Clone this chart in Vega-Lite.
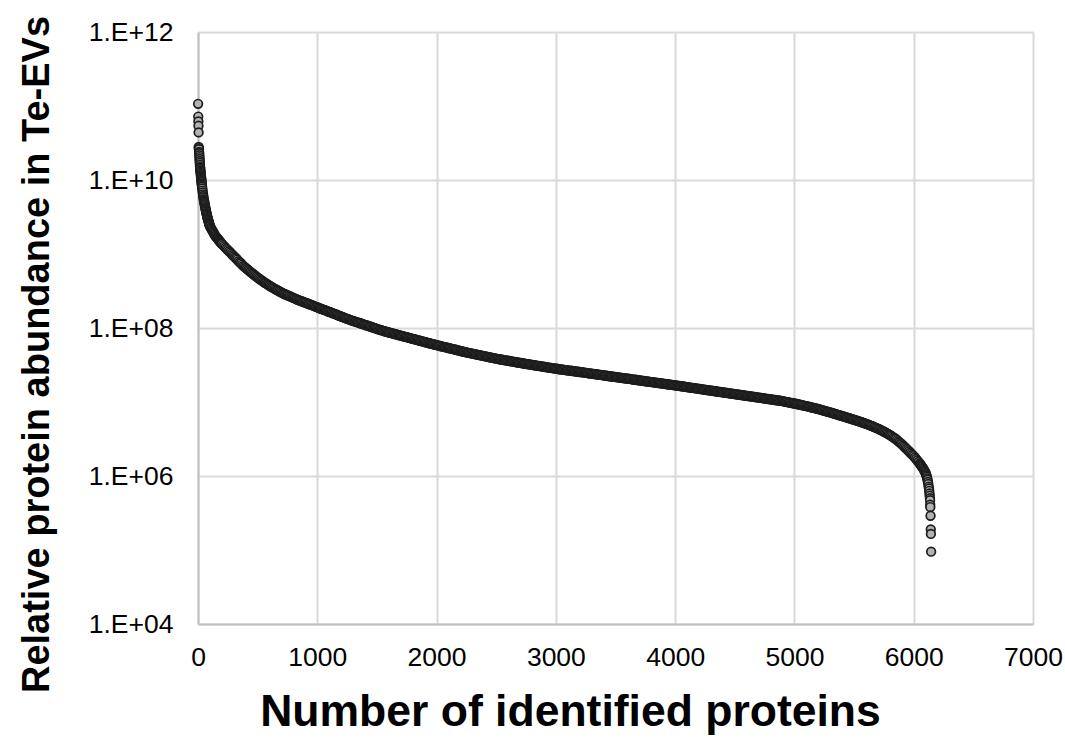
{
  "$schema": "https://vega.github.io/schema/vega-lite/v6.json",
  "width": 835,
  "height": 592,
  "autosize": {"type": "none"},
  "padding": {"left": 198, "top": 32, "right": 32, "bottom": 129},
  "background": "white",
  "config": {
    "view": {"stroke": null},
    "font": "Liberation Sans",
    "axis": {"labelFont": "Liberation Sans", "titleFont": "Liberation Sans", "labelColor": "#000000", "titleColor": "#000000"}
  },
  "data": {"values": [
{"x":1,"y":1.07e11},{"x":2,"y":7.2e10},{"x":3,"y":6.2e10},{"x":4,"y":5.4e10},{"x":5,"y":4.4e10},{"x":6,"y":2.8e10},{"x":7,"y":2.7e10},{"x":8,"y":2.6e10},{"x":9,"y":2.4e10},{"x":10,"y":2.3e10},
{"x":11,"y":2.16e10},{"x":12,"y":2.04e10},{"x":13,"y":1.92e10},{"x":14,"y":1.81e10},{"x":15,"y":1.71e10},{"x":16,"y":1.61e10},{"x":17,"y":1.51e10},{"x":18,"y":1.46e10},{"x":19,"y":1.41e10},{"x":20,"y":1.35e10},
{"x":21,"y":1.30e10},{"x":22,"y":1.26e10},{"x":23,"y":1.21e10},{"x":24,"y":1.16e10},{"x":25,"y":1.12e10},{"x":26,"y":1.08e10},{"x":27,"y":1.045e10},{"x":28,"y":1.01e10},{"x":29,"y":9.7e9},{"x":30,"y":9.4e9},
{"x":31,"y":9.0e9},{"x":32,"y":8.7e9},{"x":33,"y":8.4e9},{"x":34,"y":8.1e9},{"x":36,"y":7.7e9},{"x":38,"y":7.2e9},{"x":40,"y":6.8e9},{"x":42,"y":6.4e9},{"x":44,"y":6.1e9},{"x":46,"y":5.8e9},
{"x":48,"y":5.5e9},{"x":50,"y":5.3e9},{"x":52,"y":5.1e9},{"x":54,"y":4.9e9},{"x":56,"y":4.7e9},{"x":58,"y":4.5e9},{"x":60,"y":4.3e9},{"x":62,"y":4.15e9},{"x":64,"y":4.0e9},{"x":66,"y":3.9e9},
{"x":68,"y":3.75e9},{"x":70,"y":3.6e9},{"x":72,"y":3.5e9},{"x":74,"y":3.4e9},{"x":76,"y":3.3e9},{"x":78,"y":3.16e9},{"x":80,"y":3.08e9},{"x":82,"y":3.0e9},{"x":84,"y":2.92e9},{"x":86,"y":2.85e9},
{"x":88,"y":2.77e9},{"x":90,"y":2.7e9},{"x":92,"y":2.63e9},{"x":94,"y":2.57e9},{"x":96,"y":2.5e9},{"x":98,"y":2.44e9},{"x":100,"y":2.37e9},{"x":105,"y":2.29e9},{"x":110,"y":2.22e9},{"x":115,"y":2.15e9},
{"x":120,"y":2.07e9},{"x":125,"y":2.01e9},{"x":130,"y":1.95e9},{"x":135,"y":1.88e9},{"x":140,"y":1.82e9},{"x":145,"y":1.76e9},{"x":150,"y":1.72e9},{"x":155,"y":1.68e9},{"x":160,"y":1.64e9},{"x":165,"y":1.61e9},
{"x":170,"y":1.57e9},{"x":175,"y":1.53e9},{"x":180,"y":1.50e9},{"x":185,"y":1.47e9},{"x":190,"y":1.43e9},{"x":195,"y":1.40e9},{"x":200,"y":1.37e9},{"x":210,"y":1.32e9},{"x":220,"y":1.27e9},{"x":230,"y":1.22e9},
{"x":240,"y":1.17e9},{"x":250,"y":1.13e9},{"x":260,"y":1.09e9},{"x":270,"y":1.05e9},{"x":280,"y":1.01e9},{"x":290,"y":9.7e8},{"x":300,"y":9.35e8},{"x":310,"y":9.0e8},{"x":320,"y":8.7e8},{"x":330,"y":8.4e8},
{"x":340,"y":8.0e8},{"x":350,"y":7.7e8},{"x":360,"y":7.5e8},{"x":370,"y":7.2e8},{"x":380,"y":6.9e8},{"x":390,"y":6.7e8},{"x":400,"y":6.49e8},{"x":410,"y":6.28e8},{"x":420,"y":6.1e8},{"x":430,"y":5.9e8},
{"x":440,"y":5.71e8},{"x":450,"y":5.55e8},{"x":460,"y":5.4e8},{"x":470,"y":5.24e8},{"x":480,"y":5.08e8},{"x":490,"y":4.94e8},{"x":500,"y":4.8e8},{"x":510,"y":4.67e8},{"x":520,"y":4.55e8},{"x":530,"y":4.43e8},
{"x":540,"y":4.32e8},{"x":550,"y":4.2e8},{"x":560,"y":4.09e8},{"x":570,"y":4.0e8},{"x":580,"y":3.91e8},{"x":590,"y":3.81e8},{"x":600,"y":3.72e8},{"x":610,"y":3.64e8},{"x":620,"y":3.56e8},{"x":630,"y":3.48e8},
{"x":640,"y":3.41e8},{"x":650,"y":3.34e8},{"x":660,"y":3.27e8},{"x":670,"y":3.21e8},{"x":680,"y":3.14e8},{"x":690,"y":3.08e8},{"x":700,"y":3.02e8},{"x":710,"y":2.96e8},{"x":720,"y":2.90e8},{"x":730,"y":2.86e8},
{"x":740,"y":2.81e8},{"x":750,"y":2.77e8},{"x":760,"y":2.72e8},{"x":770,"y":2.68e8},{"x":780,"y":2.64e8},{"x":790,"y":2.59e8},{"x":800,"y":2.55e8},{"x":810,"y":2.51e8},{"x":820,"y":2.47e8},{"x":830,"y":2.43e8},
{"x":840,"y":2.39e8},{"x":850,"y":2.36e8},{"x":860,"y":2.33e8},{"x":870,"y":2.30e8},{"x":880,"y":2.26e8},{"x":890,"y":2.23e8},{"x":900,"y":2.20e8},{"x":910,"y":2.17e8},{"x":920,"y":2.14e8},{"x":930,"y":2.11e8},
{"x":940,"y":2.08e8},{"x":950,"y":2.05e8},{"x":960,"y":2.02e8},{"x":970,"y":1.99e8},{"x":980,"y":1.96e8},{"x":990,"y":1.93e8},{"x":1000,"y":1.91e8},{"x":1010,"y":1.88e8},{"x":1020,"y":1.85e8},{"x":1030,"y":1.82e8},
{"x":1040,"y":1.80e8},{"x":1050,"y":1.77e8},{"x":1060,"y":1.75e8},{"x":1070,"y":1.73e8},{"x":1080,"y":1.70e8},{"x":1090,"y":1.67e8},{"x":1100,"y":1.65e8},{"x":1110,"y":1.63e8},{"x":1120,"y":1.61e8},{"x":1130,"y":1.58e8},
{"x":1140,"y":1.56e8},{"x":1150,"y":1.54e8},{"x":1160,"y":1.52e8},{"x":1170,"y":1.50e8},{"x":1180,"y":1.47e8},{"x":1190,"y":1.45e8},{"x":1200,"y":1.43e8},{"x":1210,"y":1.41e8},{"x":1220,"y":1.39e8},{"x":1230,"y":1.37e8},
{"x":1240,"y":1.35e8},{"x":1250,"y":1.33e8},{"x":1260,"y":1.32e8},{"x":1270,"y":1.30e8},{"x":1280,"y":1.28e8},{"x":1290,"y":1.26e8},{"x":1300,"y":1.25e8},{"x":1310,"y":1.23e8},{"x":1320,"y":1.22e8},{"x":1330,"y":1.20e8},
{"x":1340,"y":1.19e8},{"x":1350,"y":1.17e8},{"x":1360,"y":1.16e8},{"x":1370,"y":1.15e8},{"x":1380,"y":1.13e8},{"x":1390,"y":1.12e8},{"x":1400,"y":1.10e8},{"x":1410,"y":1.09e8},{"x":1420,"y":1.08e8},{"x":1430,"y":1.06e8},
{"x":1440,"y":1.05e8},{"x":1450,"y":1.04e8},{"x":1460,"y":1.02e8},{"x":1470,"y":1.01e8},{"x":1480,"y":1.00e8},{"x":1490,"y":9.9e7},{"x":1500,"y":9.75e7},{"x":1510,"y":9.6e7},{"x":1520,"y":9.5e7},{"x":1530,"y":9.4e7},
{"x":1540,"y":9.3e7},{"x":1550,"y":9.2e7},{"x":1560,"y":9.06e7},{"x":1570,"y":8.97e7},{"x":1580,"y":8.89e7},{"x":1590,"y":8.8e7},{"x":1600,"y":8.7e7},{"x":1610,"y":8.63e7},{"x":1620,"y":8.54e7},{"x":1630,"y":8.46e7},
{"x":1640,"y":8.37e7},{"x":1650,"y":8.3e7},{"x":1660,"y":8.2e7},{"x":1670,"y":8.13e7},{"x":1680,"y":8.05e7},{"x":1690,"y":7.96e7},{"x":1700,"y":7.89e7},{"x":1710,"y":7.81e7},{"x":1720,"y":7.74e7},{"x":1730,"y":7.66e7},
{"x":1740,"y":7.59e7},{"x":1750,"y":7.52e7},{"x":1760,"y":7.43e7},{"x":1770,"y":7.36e7},{"x":1780,"y":7.29e7},{"x":1790,"y":7.21e7},{"x":1800,"y":7.14e7},{"x":1810,"y":7.08e7},{"x":1820,"y":7.01e7},{"x":1830,"y":6.93e7},
{"x":1840,"y":6.87e7},{"x":1850,"y":6.81e7},{"x":1860,"y":6.73e7},{"x":1870,"y":6.67e7},{"x":1880,"y":6.61e7},{"x":1890,"y":6.55e7},{"x":1900,"y":6.47e7},{"x":1910,"y":6.41e7},{"x":1920,"y":6.35e7},{"x":1930,"y":6.28e7},
{"x":1940,"y":6.22e7},{"x":1950,"y":6.17e7},{"x":1960,"y":6.1e7},{"x":1970,"y":6.04e7},{"x":1980,"y":5.98e7},{"x":1990,"y":5.93e7},{"x":2000,"y":5.87e7},{"x":2010,"y":5.82e7},{"x":2020,"y":5.77e7},{"x":2030,"y":5.71e7},
{"x":2040,"y":5.66e7},{"x":2050,"y":5.61e7},{"x":2060,"y":5.56e7},{"x":2070,"y":5.51e7},{"x":2080,"y":5.46e7},{"x":2090,"y":5.42e7},{"x":2100,"y":5.37e7},{"x":2110,"y":5.32e7},{"x":2120,"y":5.27e7},{"x":2130,"y":5.22e7},
{"x":2140,"y":5.18e7},{"x":2150,"y":5.13e7},{"x":2160,"y":5.08e7},{"x":2170,"y":5.04e7},{"x":2180,"y":4.99e7},{"x":2190,"y":4.94e7},{"x":2200,"y":4.9e7},{"x":2210,"y":4.85e7},{"x":2220,"y":4.81e7},{"x":2230,"y":4.76e7},
{"x":2240,"y":4.72e7},{"x":2250,"y":4.69e7},{"x":2260,"y":4.65e7},{"x":2270,"y":4.62e7},{"x":2280,"y":4.58e7},{"x":2290,"y":4.54e7},{"x":2300,"y":4.51e7},{"x":2310,"y":4.47e7},{"x":2320,"y":4.44e7},{"x":2330,"y":4.40e7},
{"x":2340,"y":4.37e7},{"x":2350,"y":4.33e7},{"x":2360,"y":4.30e7},{"x":2370,"y":4.26e7},{"x":2380,"y":4.23e7},{"x":2390,"y":4.20e7},{"x":2400,"y":4.16e7},{"x":2410,"y":4.13e7},{"x":2420,"y":4.10e7},{"x":2430,"y":4.07e7},
{"x":2440,"y":4.03e7},{"x":2450,"y":4.00e7},{"x":2460,"y":3.97e7},{"x":2470,"y":3.94e7},{"x":2480,"y":3.91e7},{"x":2490,"y":3.88e7},{"x":2500,"y":3.85e7},{"x":2510,"y":3.82e7},{"x":2520,"y":3.80e7},{"x":2530,"y":3.77e7},
{"x":2540,"y":3.75e7},{"x":2550,"y":3.72e7},{"x":2560,"y":3.70e7},{"x":2570,"y":3.68e7},{"x":2580,"y":3.65e7},{"x":2590,"y":3.63e7},{"x":2600,"y":3.61e7},{"x":2610,"y":3.58e7},{"x":2620,"y":3.56e7},{"x":2630,"y":3.54e7},
{"x":2640,"y":3.51e7},{"x":2650,"y":3.49e7},{"x":2660,"y":3.47e7},{"x":2670,"y":3.45e7},{"x":2680,"y":3.42e7},{"x":2690,"y":3.40e7},{"x":2700,"y":3.38e7},{"x":2710,"y":3.36e7},{"x":2720,"y":3.34e7},{"x":2730,"y":3.32e7},
{"x":2740,"y":3.29e7},{"x":2750,"y":3.27e7},{"x":2760,"y":3.25e7},{"x":2770,"y":3.24e7},{"x":2780,"y":3.22e7},{"x":2790,"y":3.20e7},{"x":2800,"y":3.18e7},{"x":2810,"y":3.16e7},{"x":2820,"y":3.14e7},{"x":2830,"y":3.12e7},
{"x":2840,"y":3.10e7},{"x":2850,"y":3.08e7},{"x":2860,"y":3.07e7},{"x":2870,"y":3.05e7},{"x":2880,"y":3.03e7},{"x":2890,"y":3.01e7},{"x":2900,"y":2.99e7},{"x":2910,"y":2.97e7},{"x":2920,"y":2.96e7},{"x":2930,"y":2.94e7},
{"x":2940,"y":2.92e7},{"x":2950,"y":2.90e7},{"x":2960,"y":2.89e7},{"x":2970,"y":2.87e7},{"x":2980,"y":2.85e7},{"x":2990,"y":2.84e7},{"x":3000,"y":2.82e7},{"x":3010,"y":2.81e7},{"x":3020,"y":2.79e7},{"x":3030,"y":2.77e7},
{"x":3040,"y":2.76e7},{"x":3050,"y":2.75e7},{"x":3060,"y":2.74e7},{"x":3070,"y":2.72e7},{"x":3080,"y":2.7e7},{"x":3090,"y":2.69e7},{"x":3100,"y":2.68e7},{"x":3110,"y":2.66e7},{"x":3120,"y":2.65e7},{"x":3130,"y":2.64e7},
{"x":3140,"y":2.62e7},{"x":3150,"y":2.61e7},{"x":3160,"y":2.59e7},{"x":3170,"y":2.58e7},{"x":3180,"y":2.57e7},{"x":3190,"y":2.56e7},{"x":3200,"y":2.54e7},{"x":3210,"y":2.53e7},{"x":3220,"y":2.52e7},{"x":3230,"y":2.51e7},
{"x":3240,"y":2.49e7},{"x":3250,"y":2.48e7},{"x":3260,"y":2.47e7},{"x":3270,"y":2.45e7},{"x":3280,"y":2.44e7},{"x":3290,"y":2.43e7},{"x":3300,"y":2.42e7},{"x":3310,"y":2.4e7},{"x":3320,"y":2.39e7},{"x":3330,"y":2.38e7},
{"x":3340,"y":2.37e7},{"x":3350,"y":2.35e7},{"x":3360,"y":2.34e7},{"x":3370,"y":2.33e7},{"x":3380,"y":2.32e7},{"x":3390,"y":2.31e7},{"x":3400,"y":2.29e7},{"x":3410,"y":2.28e7},{"x":3420,"y":2.27e7},{"x":3430,"y":2.26e7},
{"x":3440,"y":2.24e7},{"x":3450,"y":2.23e7},{"x":3460,"y":2.22e7},{"x":3470,"y":2.21e7},{"x":3480,"y":2.2e7},{"x":3490,"y":2.19e7},{"x":3500,"y":2.18e7},{"x":3510,"y":2.17e7},{"x":3520,"y":2.15e7},{"x":3530,"y":2.14e7},
{"x":3540,"y":2.13e7},{"x":3550,"y":2.12e7},{"x":3560,"y":2.11e7},{"x":3570,"y":2.1e7},{"x":3580,"y":2.09e7},{"x":3590,"y":2.08e7},{"x":3600,"y":2.07e7},{"x":3610,"y":2.06e7},{"x":3620,"y":2.05e7},{"x":3630,"y":2.04e7},
{"x":3640,"y":2.02e7},{"x":3650,"y":2.01e7},{"x":3660,"y":2.0e7},{"x":3670,"y":1.995e7},{"x":3680,"y":1.98e7},{"x":3690,"y":1.97e7},{"x":3700,"y":1.96e7},{"x":3710,"y":1.95e7},{"x":3720,"y":1.94e7},{"x":3730,"y":1.93e7},
{"x":3740,"y":1.92e7},{"x":3750,"y":1.91e7},{"x":3760,"y":1.9e7},{"x":3770,"y":1.89e7},{"x":3780,"y":1.88e7},{"x":3790,"y":1.87e7},{"x":3800,"y":1.86e7},{"x":3810,"y":1.855e7},{"x":3820,"y":1.845e7},{"x":3830,"y":1.835e7},
{"x":3840,"y":1.825e7},{"x":3850,"y":1.815e7},{"x":3860,"y":1.805e7},{"x":3870,"y":1.8e7},{"x":3880,"y":1.79e7},{"x":3890,"y":1.78e7},{"x":3900,"y":1.77e7},{"x":3910,"y":1.76e7},{"x":3920,"y":1.75e7},{"x":3930,"y":1.74e7},
{"x":3940,"y":1.735e7},{"x":3950,"y":1.725e7},{"x":3960,"y":1.715e7},{"x":3970,"y":1.705e7},{"x":3980,"y":1.7e7},{"x":3990,"y":1.69e7},{"x":4000,"y":1.68e7},{"x":4010,"y":1.67e7},{"x":4020,"y":1.66e7},{"x":4030,"y":1.65e7},
{"x":4040,"y":1.645e7},{"x":4050,"y":1.635e7},{"x":4060,"y":1.625e7},{"x":4070,"y":1.62e7},{"x":4080,"y":1.61e7},{"x":4090,"y":1.6e7},{"x":4100,"y":1.59e7},{"x":4110,"y":1.58e7},{"x":4120,"y":1.575e7},{"x":4130,"y":1.565e7},
{"x":4140,"y":1.555e7},{"x":4150,"y":1.55e7},{"x":4160,"y":1.54e7},{"x":4170,"y":1.53e7},{"x":4180,"y":1.525e7},{"x":4190,"y":1.515e7},{"x":4200,"y":1.505e7},{"x":4210,"y":1.5e7},{"x":4220,"y":1.49e7},{"x":4230,"y":1.48e7},
{"x":4240,"y":1.47e7},{"x":4250,"y":1.465e7},{"x":4260,"y":1.46e7},{"x":4270,"y":1.45e7},{"x":4280,"y":1.44e7},{"x":4290,"y":1.435e7},{"x":4300,"y":1.425e7},{"x":4310,"y":1.42e7},{"x":4320,"y":1.41e7},{"x":4330,"y":1.405e7},
{"x":4340,"y":1.395e7},{"x":4350,"y":1.387e7},{"x":4360,"y":1.38e7},{"x":4370,"y":1.373e7},{"x":4380,"y":1.365e7},{"x":4390,"y":1.358e7},{"x":4400,"y":1.35e7},{"x":4410,"y":1.343e7},{"x":4420,"y":1.336e7},{"x":4430,"y":1.33e7},
{"x":4440,"y":1.321e7},{"x":4450,"y":1.315e7},{"x":4460,"y":1.306e7},{"x":4470,"y":1.3e7},{"x":4480,"y":1.294e7},{"x":4490,"y":1.285e7},{"x":4500,"y":1.279e7},{"x":4510,"y":1.273e7},{"x":4520,"y":1.265e7},{"x":4530,"y":1.259e7},
{"x":4540,"y":1.253e7},{"x":4550,"y":1.245e7},{"x":4560,"y":1.239e7},{"x":4570,"y":1.233e7},{"x":4580,"y":1.225e7},{"x":4590,"y":1.219e7},{"x":4600,"y":1.211e7},{"x":4610,"y":1.205e7},{"x":4620,"y":1.199e7},{"x":4630,"y":1.191e7},
{"x":4640,"y":1.186e7},{"x":4650,"y":1.18e7},{"x":4660,"y":1.172e7},{"x":4670,"y":1.167e7},{"x":4680,"y":1.161e7},{"x":4690,"y":1.153e7},{"x":4700,"y":1.148e7},{"x":4710,"y":1.143e7},{"x":4720,"y":1.135e7},{"x":4730,"y":1.13e7},
{"x":4740,"y":1.122e7},{"x":4750,"y":1.117e7},{"x":4760,"y":1.112e7},{"x":4770,"y":1.104e7},{"x":4780,"y":1.099e7},{"x":4790,"y":1.094e7},{"x":4800,"y":1.086e7},{"x":4810,"y":1.081e7},{"x":4820,"y":1.076e7},{"x":4830,"y":1.069e7},
{"x":4840,"y":1.064e7},{"x":4850,"y":1.057e7},{"x":4860,"y":1.052e7},{"x":4870,"y":1.047e7},{"x":4880,"y":1.042e7},{"x":4890,"y":1.035e7},{"x":4900,"y":1.028e7},{"x":4910,"y":1.019e7},{"x":4920,"y":1.012e7},{"x":4930,"y":1.005e7},
{"x":4940,"y":9.98e6},{"x":4950,"y":9.91e6},{"x":4960,"y":9.82e6},{"x":4970,"y":9.75e6},{"x":4980,"y":9.68e6},{"x":4990,"y":9.62e6},{"x":5000,"y":9.55e6},{"x":5010,"y":9.46e6},{"x":5020,"y":9.4e6},{"x":5030,"y":9.31e6},
{"x":5040,"y":9.25e6},{"x":5050,"y":9.16e6},{"x":5060,"y":9.1e6},{"x":5070,"y":9.02e6},{"x":5080,"y":8.95e6},{"x":5090,"y":8.87e6},{"x":5100,"y":8.81e6},{"x":5110,"y":8.73e6},{"x":5120,"y":8.65e6},{"x":5130,"y":8.57e6},
{"x":5140,"y":8.49e6},{"x":5150,"y":8.41e6},{"x":5160,"y":8.34e6},{"x":5170,"y":8.26e6},{"x":5180,"y":8.18e6},{"x":5190,"y":8.11e6},{"x":5200,"y":8.04e6},{"x":5210,"y":7.94e6},{"x":5220,"y":7.87e6},{"x":5230,"y":7.78e6},
{"x":5240,"y":7.71e6},{"x":5250,"y":7.62e6},{"x":5260,"y":7.54e6},{"x":5270,"y":7.46e6},{"x":5280,"y":7.38e6},{"x":5290,"y":7.31e6},{"x":5300,"y":7.24e6},{"x":5310,"y":7.16e6},{"x":5320,"y":7.08e6},{"x":5330,"y":7.0e6},
{"x":5340,"y":6.92e6},{"x":5350,"y":6.84e6},{"x":5360,"y":6.76e6},{"x":5370,"y":6.68e6},{"x":5380,"y":6.61e6},{"x":5390,"y":6.53e6},{"x":5400,"y":6.46e6},{"x":5410,"y":6.38e6},{"x":5420,"y":6.31e6},{"x":5430,"y":6.24e6},
{"x":5440,"y":6.17e6},{"x":5450,"y":6.1e6},{"x":5460,"y":6.03e6},{"x":5470,"y":5.96e6},{"x":5480,"y":5.89e6},{"x":5490,"y":5.82e6},{"x":5500,"y":5.75e6},{"x":5510,"y":5.69e6},{"x":5520,"y":5.62e6},{"x":5530,"y":5.55e6},
{"x":5540,"y":5.48e6},{"x":5550,"y":5.42e6},{"x":5560,"y":5.36e6},{"x":5570,"y":5.28e6},{"x":5580,"y":5.22e6},{"x":5590,"y":5.15e6},{"x":5600,"y":5.08e6},{"x":5610,"y":5.01e6},{"x":5620,"y":4.94e6},{"x":5630,"y":4.86e6},
{"x":5640,"y":4.8e6},{"x":5650,"y":4.73e6},{"x":5660,"y":4.66e6},{"x":5670,"y":4.58e6},{"x":5680,"y":4.51e6},{"x":5690,"y":4.44e6},{"x":5700,"y":4.37e6},{"x":5710,"y":4.29e6},{"x":5720,"y":4.21e6},{"x":5730,"y":4.13e6},
{"x":5740,"y":4.06e6},{"x":5750,"y":3.98e6},{"x":5760,"y":3.9e6},{"x":5770,"y":3.82e6},{"x":5780,"y":3.74e6},{"x":5790,"y":3.66e6},{"x":5800,"y":3.59e6},{"x":5810,"y":3.5e6},{"x":5820,"y":3.41e6},{"x":5830,"y":3.33e6},
{"x":5840,"y":3.24e6},{"x":5850,"y":3.16e6},{"x":5860,"y":3.06e6},{"x":5870,"y":2.96e6},{"x":5880,"y":2.87e6},{"x":5890,"y":2.78e6},{"x":5900,"y":2.69e6},{"x":5910,"y":2.59e6},{"x":5920,"y":2.5e6},{"x":5930,"y":2.41e6},
{"x":5940,"y":2.32e6},{"x":5950,"y":2.24e6},{"x":5960,"y":2.16e6},{"x":5970,"y":2.08e6},{"x":5980,"y":2.0e6},{"x":5990,"y":1.93e6},{"x":6000,"y":1.86e6},{"x":6010,"y":1.78e6},{"x":6020,"y":1.7e6},{"x":6030,"y":1.62e6},
{"x":6040,"y":1.55e6},{"x":6050,"y":1.48e6},{"x":6055,"y":1.44e6},{"x":6060,"y":1.4e6},{"x":6065,"y":1.36e6},{"x":6070,"y":1.33e6},{"x":6075,"y":1.29e6},{"x":6080,"y":1.26e6},{"x":6085,"y":1.22e6},{"x":6090,"y":1.17e6},
{"x":6095,"y":1.14e6},{"x":6100,"y":1.1e6},{"x":6103,"y":1.06e6},{"x":6106,"y":1.02e6},{"x":6110,"y":9.8e5},{"x":6113,"y":9.3e5},{"x":6116,"y":8.9e5},{"x":6119,"y":8.3e5},{"x":6122,"y":7.8e5},{"x":6125,"y":7.2e5},
{"x":6128,"y":6.8e5},{"x":6130,"y":6.3e5},{"x":6132,"y":5.8e5},{"x":6134,"y":5.4e5},{"x":6136,"y":5.0e5},{"x":6137,"y":4.7e5},{"x":6138,"y":4.1e5},{"x":6139,"y":3.8e5},{"x":6141,"y":2.9e5},{"x":6143,"y":1.9e5},
{"x":6144,"y":1.65e5},{"x":6146,"y":9.5e4}
  ]},
  "mark": {"type": "point", "shape": "circle", "filled": true, "fill": "#b2b2b2", "stroke": "#1c1c1c", "strokeWidth": 1.7, "size": 75, "opacity": 1},
  "encoding": {
    "x": {
      "field": "x", "type": "quantitative",
      "scale": {"domain": [0, 7000], "nice": false},
      "axis": {
        "values": [0, 1000, 2000, 3000, 4000, 5000, 6000, 7000],
        "format": "d",
        "title": "Number of identified proteins",
        "titleFontSize": 44.5, "titleFontWeight": "bold",
        "titleX": 372, "titleY": 101, "titleAnchor": null, "titleAlign": "center", "titleBaseline": "alphabetic",
        "labelFontSize": 26.5, "labelPadding": 20, "labelBaseline": "top", "labelFlush": false,
        "ticks": false, "tickSize": 0,
        "domainColor": "#bfbfbf", "domainWidth": 2,
        "grid": true, "gridColor": "#d9d9d9", "gridWidth": 2
      }
    },
    "y": {
      "field": "y", "type": "quantitative",
      "scale": {"type": "log", "domain": [1e4, 1e12], "nice": false},
      "axis": {
        "values": [1e4, 1e6, 1e8, 1e10, 1e12],
        "labelExpr": "'1.E+' + (round(log(datum.value)/LN10) < 10 ? '0' : '') + round(log(datum.value)/LN10)",
        "title": "Relative protein abundance in Te-EVs",
        "titleFontSize": 38, "titleFontWeight": "bold",
        "titleAngle": -90, "titleX": -150, "titleY": 322, "titleAlign": "center", "titleBaseline": "alphabetic",
        "labelFontSize": 26.5, "labelPadding": 25, "labelFlush": false,
        "ticks": false, "tickSize": 0,
        "domainColor": "#bfbfbf", "domainWidth": 2,
        "grid": true, "gridColor": "#d9d9d9", "gridWidth": 2
      }
    }
  }
}
